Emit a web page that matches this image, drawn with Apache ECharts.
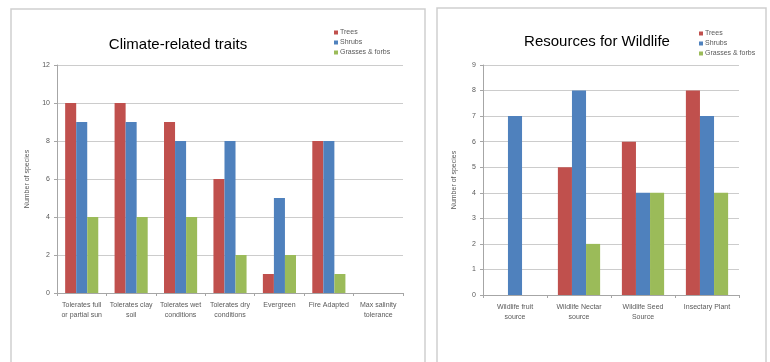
<!DOCTYPE html>
<html>
<head>
<meta charset="utf-8">
<script src="https://cdn.jsdelivr.net/npm/echarts@6/dist/echarts.min.js"></script>
<style>
  html, body { margin: 0; padding: 0; background: #ffffff; }
  #chart { width: 770px; height: 362px; }
</style>
</head>
<body>
<div id="chart"></div>
<script>
// Species counts by plant group
const seriesNames = ['Trees', 'Shrubs', 'Grasses & forbs'];

const climateCategories = [
  'Tolerates full\nor partial sun',
  'Tolerates clay\nsoil',
  'Tolerates wet\nconditions',
  'Tolerates dry\nconditions',
  'Evergreen',
  'Fire Adapted',
  'Max salinity\ntolerance'
];
const climateTrees   = [10, 10, 9, 6, 1, 8, 0];
const climateShrubs  = [9, 9, 8, 8, 5, 8, 0];
const climateGrasses = [4, 4, 4, 2, 2, 1, 0];

const wildlifeCategories = [
  'Wildlife fruit\nsource',
  'Wildlife Nectar\nsource',
  'Wildlife Seed\nSource',
  'Insectary Plant'
];
const wildlifeTrees   = [0, 5, 6, 8];
const wildlifeShrubs  = [7, 8, 4, 7];
const wildlifeGrasses = [0, 2, 4, 4];

const colors = ['#C0504D', '#4F81BD', '#9BBB59'];
const font = 'Liberation Sans, Arial, sans-serif';
const labelColor = '#595959';

function valueAxis(gridIndex, max, interval, nameGap) {
  return {
    type: 'value', gridIndex, min: 0, max, interval,
    name: 'Number of species', nameLocation: 'middle', nameGap, nameRotate: 90,
    nameTextStyle: { fontSize: 7, color: labelColor, fontFamily: font },
    axisLine: { show: true, lineStyle: { color: '#a6a6a6', width: 1 } },
    axisTick: { show: true, length: 3, lineStyle: { color: '#a6a6a6' } },
    axisLabel: { fontSize: 7, color: labelColor, fontFamily: font, margin: 7 },
    splitLine: { lineStyle: { color: '#cccccc', width: 1 } }
  };
}

function categoryAxis(gridIndex, data) {
  return {
    type: 'category', gridIndex, data,
    axisLine: { lineStyle: { color: '#a6a6a6', width: 1 } },
    axisTick: { show: true, length: 3, alignWithLabel: false, lineStyle: { color: '#a6a6a6' } },
    axisLabel: { fontSize: 7, color: labelColor, fontFamily: font, margin: 7, lineHeight: 10, interval: 0 }
  };
}

function barSeries(name, data, idx, axisIndex, catGap) {
  return {
    name, type: 'bar', data,
    xAxisIndex: axisIndex, yAxisIndex: axisIndex,
    barGap: '0%', barCategoryGap: catGap,
    itemStyle: { color: colors[idx] },
    emphasis: { disabled: true },
    animation: false
  };
}

function legend(left, top) {
  return {
    orient: 'vertical', left, top,
    itemWidth: 4, itemHeight: 4, itemGap: 3,
    icon: 'rect',
    textStyle: { fontSize: 7, color: labelColor, fontFamily: font, padding: [0, 0, 0, -3] },
    data: seriesNames
  };
}

const chart = echarts.init(document.getElementById('chart'), null, { renderer: 'canvas' });

const option = {
  animation: false,
  backgroundColor: '#ffffff',
  title: [
    { text: 'Climate-related traits', left: 173, top: 32, textAlign: 'center',
      textStyle: { fontSize: 15, fontWeight: 'normal', color: '#000', fontFamily: font } },
    { text: 'Resources for Wildlife', left: 592, top: 29, textAlign: 'center',
      textStyle: { fontSize: 15, fontWeight: 'normal', color: '#000', fontFamily: font } }
  ],
  legend: [legend(329, 24), legend(694, 25)],
  grid: [
    { left: 57, top: 65, width: 346, height: 228 },
    { left: 483, top: 65, width: 256, height: 230 }
  ],
  xAxis: [categoryAxis(0, climateCategories), categoryAxis(1, wildlifeCategories)],
  yAxis: [valueAxis(0, 12, 2, 26), valueAxis(1, 9, 1, 25)],
  series: [
    barSeries('Trees', climateTrees, 0, 0, '33%'),
    barSeries('Shrubs', climateShrubs, 1, 0, '33%'),
    barSeries('Grasses & forbs', climateGrasses, 2, 0, '33%'),
    barSeries('Trees', wildlifeTrees, 0, 1, '34%'),
    barSeries('Shrubs', wildlifeShrubs, 1, 1, '34%'),
    barSeries('Grasses & forbs', wildlifeGrasses, 2, 1, '34%')
  ],
  graphic: [
    // panel frames
    { type: 'rect', shape: { x: 11, y: 9, width: 414, height: 370 },
      style: { fill: 'none', stroke: '#cfcfcf', lineWidth: 1.5 }, silent: true, z: -1 },
    { type: 'rect', shape: { x: 437, y: 8, width: 329, height: 370 },
      style: { fill: 'none', stroke: '#cfcfcf', lineWidth: 1.5 }, silent: true, z: -1 }
  ]
};

chart.setOption(option);
</script>
</body>
</html>
